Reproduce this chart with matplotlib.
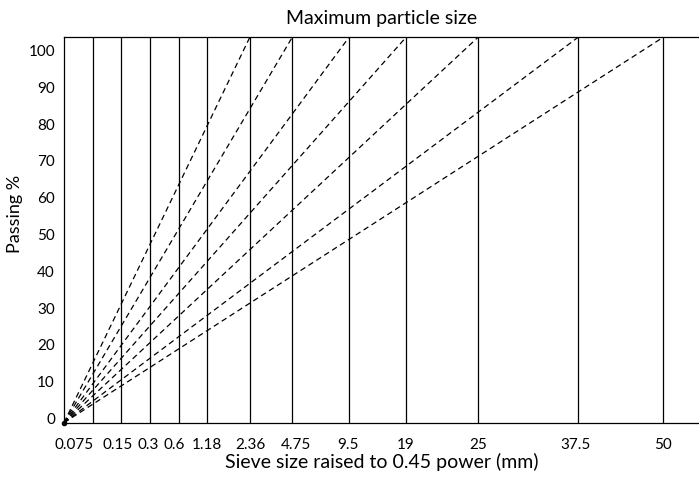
import matplotlib.pyplot as plt
from matplotlib.transforms import ScaledTranslation

plt.rcParams['font.family'] = ['Lato', 'DejaVu Sans']

# sieve sizes (mm) and their (schematic) positions on the 0.45 power axis
sieve_labels = ['0.075', '0.15', '0.3', '0.6', '1.18', '2.36', '4.75',
                '9.5', '19', '25', '37.5', '50']
sieve_x = [1.0, 2.0, 3.0, 4.0, 5.0, 6.48, 7.96, 9.94, 11.93, 14.44, 17.93, 20.9]
# where the tick labels sit (shifted left at the crowded small sizes)
label_x = [0.35, 1.88, 2.95, 3.85, 5.0, 6.49, 8.09, 9.9, 11.9, 14.45, 17.85, 20.9]

# maximum particle sizes drawn as maximum density lines
max_sizes = ['2.36', '4.75', '9.5', '19', '25', '37.5', '50']

y_ticks = [0, 10, 20, 30, 40, 50, 60, 70, 80, 90, 100]
y_top = 104.7

fig = plt.figure(figsize=(6.99, 4.8), dpi=100)
ax = fig.add_axes([0.0916, 0.1194, 0.9084, 0.8029])

for x in sieve_x:
    ax.axvline(x, color='black', linewidth=0.9)

for size in max_sizes:
    xm = sieve_x[sieve_labels.index(size)]
    ax.plot([0, xm], [0, y_top], color='black', linewidth=0.9,
            linestyle=(0, (4.5, 3.0)), clip_on=False)

ax.plot([0], [0], marker='o', markersize=3, color='black', clip_on=False)

ax.set_xlim(0, 22.15)
ax.set_ylim(0, y_top)
ax.set_xticks(label_x)
ax.set_xticklabels(sieve_labels)
ax.set_yticks(y_ticks)
ax.tick_params(axis='both', length=0, labelsize=11)
ax.tick_params(axis='x', pad=11)
ax.tick_params(axis='y', pad=6.5)

# y labels sit a little above their gridline values in the original
shift = ScaledTranslation(0, 3 / 72, fig.dpi_scale_trans)
for lab in ax.get_yticklabels():
    lab.set_transform(lab.get_transform() + shift)

for side in ['left', 'bottom', 'top']:
    ax.spines[side].set_linewidth(0.9)
ax.spines['right'].set_visible(False)

ax.set_title('Maximum particle size', fontsize=14, pad=9.5)
ax.set_xlabel('Sieve size raised to 0.45 power (mm)', fontsize=14, labelpad=1)
ax.set_ylabel('Passing %', fontsize=13)
ax.yaxis.set_label_coords(-0.064, 0.5415)

fig.savefig('out.png', dpi=100)
